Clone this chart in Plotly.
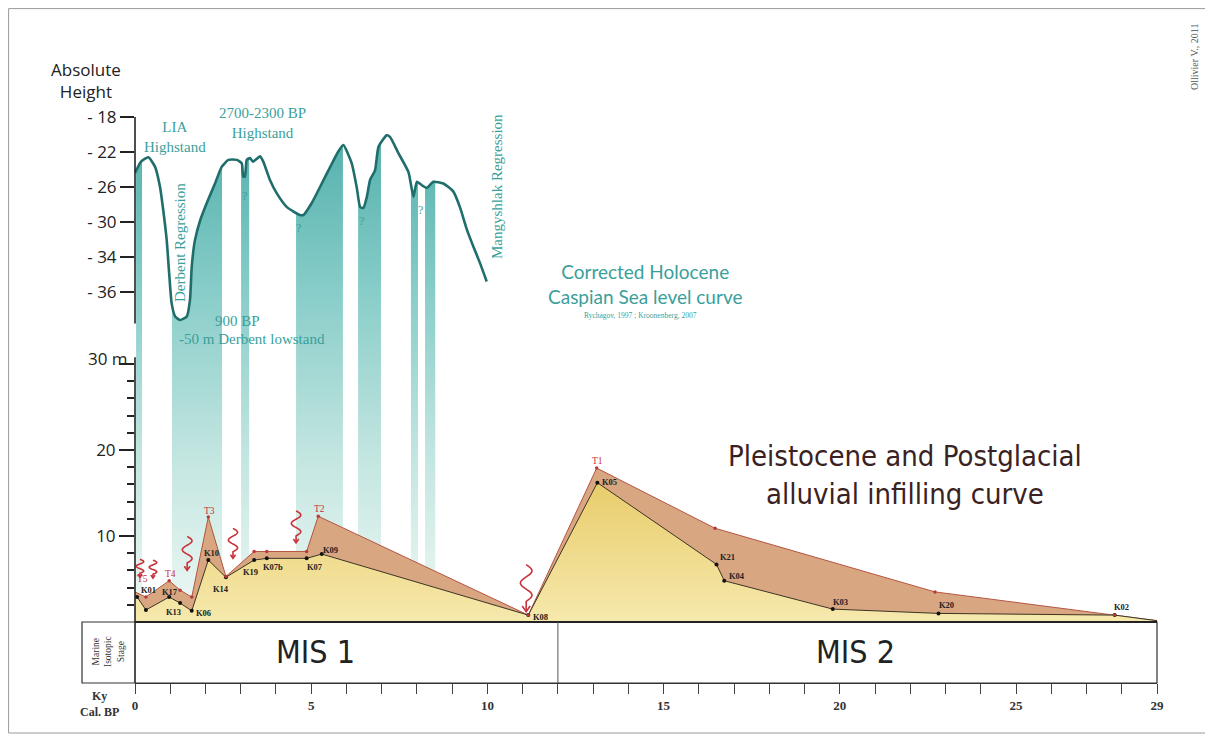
import numpy as np
import plotly.graph_objects as go

# ---------------- data ----------------
# Corrected Holocene Caspian Sea level curve (ky cal BP, absolute height m)
sea_ky = [0.0, 0.17, 0.38, 0.57, 0.71, 0.80, 0.90, 0.97, 1.04, 1.14, 1.28, 1.47, 1.56, 1.61,
          1.70, 1.85, 2.04, 2.27, 2.46, 2.65, 2.89, 3.03, 3.07, 3.12, 3.17, 3.26, 3.35, 3.55,
          3.64, 3.83, 4.02, 4.31, 4.68, 4.78, 5.02, 5.25, 5.54, 5.76, 5.91, 6.15, 6.29, 6.39,
          6.48, 6.58, 6.67, 6.81, 6.91, 7.14, 7.24, 7.47, 7.76, 7.90, 8.00, 8.14, 8.28, 8.47,
          8.75, 9.03, 9.22, 9.42, 9.60, 9.79, 9.98]
sea_h = [-24.4, -23.1, -22.6, -23.7, -26.0, -28.6, -32.1, -35.9, -39.3, -40.8, -41.2, -40.8,
         -38.9, -35.1, -32.1, -29.8, -27.8, -25.6, -23.7, -22.9, -22.9, -23.3, -24.8, -24.8,
         -22.9, -22.7, -23.1, -22.5, -23.1, -25.2, -26.7, -28.3, -29.2, -29.2, -27.8, -26.0,
         -23.7, -22.0, -21.2, -23.3, -26.0, -28.3, -28.4, -27.1, -25.2, -24.1, -21.4, -20.1,
         -20.3, -22.1, -24.3, -27.1, -25.4, -25.8, -26.1, -25.4, -25.6, -26.5, -28.3, -30.9,
         -32.8, -34.7, -36.8]

# transgression bands (ky)
band_start = [0.03, 1.05, 3.01, 4.57, 6.33, 7.83, 8.23]
band_end = [0.20, 2.47, 3.24, 5.90, 6.98, 8.03, 8.52]

# alluvial infilling: lower (K samples) and upper (terrace T) curves, metres
lower_ky = [0.0, 0.06, 0.31, 0.97, 1.28, 1.61, 2.08, 2.58, 3.38, 3.74, 4.87, 5.30, 11.16,
            13.12, 16.50, 16.72, 19.80, 22.80, 27.80, 29.0]
lower_m = [2.8, 2.9, 1.4, 2.9, 2.2, 1.3, 7.2, 5.2, 7.2, 7.4, 7.4, 7.9, 0.8,
           16.2, 6.7, 4.8, 1.5, 1.0, 0.8, 0.15]
lower_lab = ['', 'K01', '', 'K17', 'K13', 'K06', 'K10', 'K14', 'K19', 'K07b', 'K07', 'K09',
             'K08', 'K05', 'K21', 'K04', 'K03', 'K20', 'K02', '']

upper_ky = [0.0, 0.31, 0.97, 1.28, 1.61, 2.08, 2.58, 3.38, 3.74, 4.87, 5.20, 11.16, 13.10,
            16.46, 22.70, 27.80, 29.0]
upper_m = [3.5, 2.9, 4.8, 3.7, 2.9, 12.2, 5.3, 8.2, 8.2, 8.2, 12.3, 0.8, 17.9,
           10.9, 3.5, 0.8, 0.15]
upper_lab = ['', 'T5', 'T4', '', '', 'T3', '', '', '', '', 'T2', '', 'T1', '', '', '', '']

# erosion (incision) events: position of arrow tip
erosion_ky = [0.14, 0.51, 1.48, 2.78, 4.57, 11.10]
erosion_m = [5.2, 5.1, 6.0, 7.4, 9.2, 1.2]

# axis ticks
x_ticks = list(range(0, 30))
x_ticklabels = {0: '0', 5: '5', 10: '10', 15: '15', 20: '20', 25: '25', 29: '29'}
h_tickvals = [-18, -22, -26, -30, -34, -38]
h_ticktext = ['- 18', '- 22', '- 26', '- 30', '- 34', '- 36']
m_major = [10, 20, 30]
m_minor = [2, 4, 6, 8, 12, 14, 16, 18, 22, 24, 26, 28]

# ---------------- layout geometry ----------------
OFF = 8                      # page body margin
W, H = 1213 - OFF, 740 - OFF
L, T = 135 - OFF, 100 - OFF
PW, PH = 1022, 583
R, B = W - L - PW, H - T - PH
X_RANGE = [0, 29]
M_RANGE = [-7.093, 60.70]        # metres axis (alluvial)
H_RANGE = [-82.686, -16.057]     # absolute height axis (sea level)

def pxx(px):
    return (px - 135) / PW

def pxy(py):
    return (683 - py) / PH

def m_to_h(m):
    f = (m - M_RANGE[0]) / (M_RANGE[1] - M_RANGE[0])
    return H_RANGE[0] + f * (H_RANGE[1] - H_RANGE[0])

KX_PX = (X_RANGE[1] - X_RANGE[0]) / PW
M_PX = (M_RANGE[1] - M_RANGE[0]) / PH

TEAL = '#3a9f9b'
TEAL_DARK = '#1f6e6b'
RED = '#c8323a'
SERIF = 'Liberation Serif, DejaVu Serif, serif'
SANS = 'Open Sans, Lato, sans-serif'
NARROW = 'Liberation Sans Narrow, DejaVu Sans Condensed, Roboto, sans-serif'

fig = go.Figure()

# ---- teal bands (gradient) ----
h_base = m_to_h(0.0)
sk = np.array(sea_ky)
sh = np.array(sea_h)
for s, e in zip(band_start, band_end):
    inside = (sk > s) & (sk < e)
    xs = [s] + list(sk[inside]) + [e, e, s]
    ys = [float(np.interp(s, sk, sh))] + list(sh[inside]) + [float(np.interp(e, sk, sh)), h_base, h_base]
    fig.add_trace(go.Scatter(
        x=xs, y=ys, yaxis='y', mode='lines', line=dict(width=0), fill='toself',
        fillgradient=dict(type='vertical', start=h_base, stop=-21,
                          colorscale=[[0, 'rgba(240,249,245,1)'], [0.35, '#c2e5e0'],
                                      [0.7, '#86ccc8'], [1, '#56b2ae']]),
        hoverinfo='skip', showlegend=False))

# ---- sea level curve ----
fig.add_trace(go.Scatter(x=sea_ky, y=sea_h, yaxis='y', mode='lines',
                         line=dict(color=TEAL_DARK, width=2.6, shape='spline', smoothing=0.5),
                         hoverinfo='skip', showlegend=False))

# ---- alluvial fills ----
fig.add_trace(go.Scatter(x=upper_ky, y=upper_m, yaxis='y2', mode='lines', fill='tozeroy',
                         fillcolor='#d9a682', line=dict(color='#b4553f', width=1),
                         hoverinfo='skip', showlegend=False))
fig.add_trace(go.Scatter(x=lower_ky, y=lower_m, yaxis='y2', mode='lines', fill='tozeroy',
                         fillgradient=dict(type='vertical', start=0, stop=16,
                                           colorscale=[[0, '#f6e9ad'], [1, '#e9cd6c']]),
                         line=dict(color='#3b3425', width=1),
                         hoverinfo='skip', showlegend=False))

# dots
lk = [x for x, l in zip(lower_ky, lower_lab) if l]
lm = [y for y, l in zip(lower_m, lower_lab) if l]
fig.add_trace(go.Scatter(x=lk + [lower_ky[2]], y=lm + [lower_m[2]], yaxis='y2', mode='markers',
                         marker=dict(color='#111', size=4), hoverinfo='skip', showlegend=False))
fig.add_trace(go.Scatter(x=upper_ky[1:-1], y=upper_m[1:-1], yaxis='y2', mode='markers',
                         marker=dict(color='#b8393a', size=3.5), hoverinfo='skip', showlegend=False))

annotations = []
shapes = []

# K labels (offsets in px)
k_off = {'K01': (11, 7), 'K17': (1, 5), 'K13': (-7, -9), 'K06': (12, -2), 'K10': (3, 7),
         'K14': (-5, -12), 'K19': (-4, -12), 'K07b': (6, -9), 'K07': (8, -9), 'K09': (9, 4),
         'K08': (12, -2), 'K05': (12, 1), 'K21': (11, 7), 'K04': (13, 5), 'K03': (8, 7),
         'K20': (8, 8), 'K02': (7, 8)}
for x, y, lab in zip(lower_ky, lower_m, lower_lab):
    if lab:
        dx, dy = k_off[lab]
        annotations.append(dict(x=x, y=y, xref='x', yref='y2', text='<b>' + lab + '</b>',
                                showarrow=False, xshift=dx, yshift=dy,
                                font=dict(family=SERIF, size=8.5, color='#222')))
t_off = {'T5': (-3, 18), 'T4': (1, 7), 'T3': (1, 6), 'T2': (1, 7), 'T1': (1, 7)}
for x, y, lab in zip(upper_ky, upper_m, upper_lab):
    if lab:
        dx, dy = t_off[lab]
        annotations.append(dict(x=x, y=y, xref='x', yref='y2', text=lab, showarrow=False,
                                xshift=dx, yshift=dy,
                                font=dict(family=SERIF, size=9.5, color=RED)))

# erosion squiggle arrows
erosion_len = [18, 18, 34, 30, 32, 47]
for x, y, ln in zip(erosion_ky, erosion_m, erosion_len):
    amp = 2.5 + ln * 0.07
    wave = ln * 0.78
    t = np.linspace(0, 1, 40)
    px = amp * np.sin(t * 2 * np.pi * 1.5)
    py = ln - t * wave
    pts = ['%s%.4f,%.4f' % ('M' if i == 0 else 'L', x + px[i] * KX_PX, y + py[i] * M_PX)
           for i in range(len(t))]
    pts.append('L%.4f,%.4f' % (x, y))
    shapes.append(dict(type='path', xref='x', yref='y2', path=' '.join(pts),
                       line=dict(color=RED, width=1.6)))
    ah = max(3.0, ln * 0.12)
    shapes.append(dict(type='path', xref='x', yref='y2',
                       path='M%.4f,%.4f L%.4f,%.4f L%.4f,%.4f' % (
                           x - ah * 0.7 * KX_PX, y + ah * M_PX, x, y,
                           x + ah * 0.7 * KX_PX, y + ah * M_PX),
                       line=dict(color=RED, width=1.6)))

# axis lines
shapes.append(dict(type='line', xref='paper', yref='y', x0=0, x1=0, y0=-18, y1=-41.6,
                   line=dict(color='#222', width=1.6)))
shapes.append(dict(type='line', xref='paper', yref='y2', x0=0, x1=0, y0=30.8, y1=M_RANGE[0],
                   line=dict(color='#222', width=1.6)))

# MIS box
shapes.append(dict(type='rect', xref='paper', yref='paper', x0=pxx(82), x1=1.0, y0=0,
                   y1=pxy(622), line=dict(color='#333', width=1.2)))
shapes.append(dict(type='line', xref='paper', yref='paper', x0=0, x1=1.0, y0=pxy(622),
                   y1=pxy(622), line=dict(color='#222', width=2)))
shapes.append(dict(type='line', xref='x', yref='paper', x0=12, x1=12, y0=0, y1=pxy(622),
                   line=dict(color='#555', width=1)))
# outer frame
shapes.append(dict(type='rect', xref='paper', yref='paper', x0=pxx(8.6), x1=pxx(1207),
                   y0=pxy(733), y1=pxy(8.6), line=dict(color='#9a9a9a', width=1)))

def ann(px, py, text, size, color, family, angle=0, **kw):
    d = dict(x=pxx(px), y=pxy(py), xref='paper', yref='paper', text=text, showarrow=False,
             font=dict(family=family, size=size, color=color), textangle=angle,
             xanchor='center', yanchor='middle')
    d.update(kw)
    annotations.append(d)

ann(86, 80, 'Absolute<br>Height', 17, '#222', SANS)
ann(108, 358, '30 m', 17, '#222', SANS)
ann(175, 137, 'LIA<br>Highstand', 15, TEAL, SERIF)
ann(262, 123, '2700-2300 BP<br>Highstand', 15, TEAL, SERIF)
ann(180, 243, 'Derbent Regression', 15, TEAL, SERIF, angle=-90)
ann(237, 321, '900 BP', 15, TEAL, SERIF)
ann(252, 339, '-50 m Derbent lowstand', 15, TEAL, SERIF)
for qx, qy in [(244, 196), (298, 228), (361, 221), (420, 210)]:
    ann(qx, qy, '?', 12, TEAL, SERIF)
ann(497, 187, 'Mangyshlak Regression', 15, TEAL, SERIF, angle=-90)
ann(645, 284, 'Corrected Holocene<br>Caspian Sea level curve', 19, TEAL, 'Lato, Open Sans, sans-serif')
ann(640, 315, 'Rychagov, 1997 ; Kroonenberg, 2007', 7.5, TEAL, SERIF)
ann(905, 475, 'Pleistocene and Postglacial<br>alluvial infilling curve', 29, '#3a2222', NARROW)
ann(315, 652, 'MIS 1', 32, '#222', NARROW)
ann(855, 652, 'MIS 2', 32, '#222', NARROW)
ann(108, 652, 'Marine<br>Isotopic<br>Stage', 9.5, '#333', SERIF, angle=-90)
ann(99, 704, '<b>Ky<br>Cal. BP</b>', 12, '#333', SERIF)
ann(1195, 57, 'Ollivier V., 2011', 10, '#555', SERIF, angle=-90)

fig.update_layout(
    width=W, height=H,
    margin=dict(l=L, r=R, t=T, b=B, autoexpand=False),
    paper_bgcolor='white', plot_bgcolor='white',
    showlegend=False,
    xaxis=dict(range=X_RANGE, tickmode='array', tickvals=x_ticks,
               ticktext=['<b>%s</b>' % x_ticklabels.get(v, '') for v in x_ticks],
               ticks='outside', ticklen=10, tickwidth=1.2, tickcolor='#444',
               showgrid=False, zeroline=False, showline=True, linecolor='#333', linewidth=1.2,
               tickfont=dict(family=SERIF, size=13, color='#333')),
    yaxis=dict(range=H_RANGE, tickmode='array', tickvals=h_tickvals, ticktext=h_ticktext,
               ticks='outside', ticklen=14, tickwidth=1.6, tickcolor='#222',
               showgrid=False, zeroline=False, showline=False,
               tickfont=dict(family=SANS, size=17, color='#222')),
    yaxis2=dict(range=M_RANGE, overlaying='y', side='left', anchor='x', tickmode='array',
                tickvals=m_major, ticktext=['10', '20', ''], ticks='outside', ticklen=15,
                tickwidth=1.6, tickcolor='#222', showgrid=False, zeroline=False, showline=False,
                tickfont=dict(family=SANS, size=17, color='#222'),
                minor=dict(tickmode='array', tickvals=m_minor, ticks='outside', ticklen=7,
                           tickwidth=1.6, tickcolor='#222', showgrid=False)),
    annotations=annotations,
    shapes=shapes,
)

fig.write_html('out.html')
